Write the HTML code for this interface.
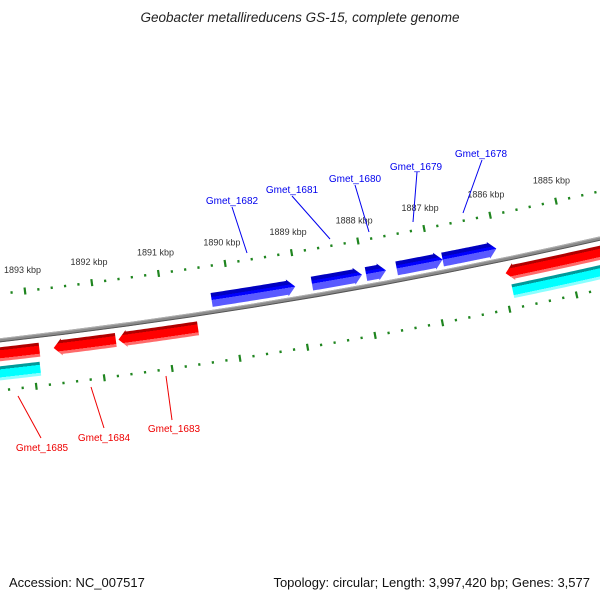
<!DOCTYPE html>
<html><head><meta charset="utf-8"><style>
html,body{margin:0;padding:0;background:#fff;}
svg{display:block;font-family:"Liberation Sans","DejaVu Sans",sans-serif;}
</style></head><body>
<svg id="map" width="600" height="600" viewBox="0 0 600 600" xmlns="http://www.w3.org/2000/svg">
<defs>
<radialGradient id="gBlue" gradientUnits="userSpaceOnUse" cx="-618" cy="-5125" r="5600" fx="-618" fy="-5125">
<stop offset="0.978" stop-color="#0000c0"/><stop offset="0.97946" stop-color="#0000c0"/><stop offset="0.97947" stop-color="#0000ff"/><stop offset="0.98" stop-color="#0000ff"/><stop offset="0.98001" stop-color="#5a5aff"/><stop offset="0.99" stop-color="#5a5aff"/>
</radialGradient>
<radialGradient id="gRed" gradientUnits="userSpaceOnUse" cx="-618" cy="-5125" r="5600" fx="-618" fy="-5125">
<stop offset="0.98" stop-color="#b00000"/><stop offset="0.98392" stop-color="#b00000"/><stop offset="0.98393" stop-color="#ff0000"/><stop offset="0.98535" stop-color="#ff0000"/><stop offset="0.98536" stop-color="#ff6a6a"/><stop offset="0.99" stop-color="#ff6a6a"/>
</radialGradient>
<radialGradient id="gCyan" gradientUnits="userSpaceOnUse" cx="-618" cy="-5125" r="5600" fx="-618" fy="-5125">
<stop offset="0.98" stop-color="#009a9a"/><stop offset="0.98732" stop-color="#009a9a"/><stop offset="0.98733" stop-color="#00ffff"/><stop offset="0.98875" stop-color="#00ffff"/><stop offset="0.98876" stop-color="#8affff"/><stop offset="0.995" stop-color="#8affff"/>
</radialGradient>
</defs>
<text x="300" y="22" text-anchor="middle" font-size="13.5" font-style="italic" fill="#222">Geobacter metallireducens GS-15, complete genome</text>
<g id="ticks"></g>
<g id="backbone"></g>
<g id="genes"></g>
<g id="labels">
<line x1="232" y1="207" x2="247" y2="253" stroke="#0000ee" stroke-width="1"/>
<line x1="292" y1="196" x2="330" y2="239" stroke="#0000ee" stroke-width="1"/>
<line x1="355" y1="185" x2="369" y2="232" stroke="#0000ee" stroke-width="1"/>
<line x1="417" y1="172" x2="413" y2="222" stroke="#0000ee" stroke-width="1"/>
<line x1="482" y1="160" x2="463" y2="213" stroke="#0000ee" stroke-width="1"/>
<line x1="18" y1="396" x2="41" y2="438" stroke="#ee0000" stroke-width="1"/>
<line x1="91" y1="387" x2="104" y2="428" stroke="#ee0000" stroke-width="1"/>
<line x1="166" y1="376" x2="172" y2="420" stroke="#ee0000" stroke-width="1"/>
<g font-size="10" text-anchor="middle">
<text x="232" y="204" fill="#0000ee">Gmet_1682</text>
<text x="292" y="193" fill="#0000ee">Gmet_1681</text>
<text x="355" y="182" fill="#0000ee">Gmet_1680</text>
<text x="416" y="170" fill="#0000ee">Gmet_1679</text>
<text x="481" y="157" fill="#0000ee">Gmet_1678</text>
<text x="42" y="451" fill="#ee0000">Gmet_1685</text>
<text x="104" y="441" fill="#ee0000">Gmet_1684</text>
<text x="174" y="432" fill="#ee0000">Gmet_1683</text>
</g>
</g>
<text x="9" y="587" font-size="13" fill="#111">Accession: NC_007517</text>
<text x="590" y="587" font-size="13" text-anchor="end" fill="#111">Topology: circular; Length: 3,997,420 bp; Genes: 3,577</text>
</svg>
<script>
// data (kbp)
const majorTicks = [1884,1885,1886,1887,1888,1889,1890,1891,1892,1893,1894];
const outerLabelTicks = [1885,1886,1887,1888,1889,1890,1891,1892,1893];
const blueStarts = [1890.28,1888.78,1887.97,1887.51,1886.82];
const blueEnds   = [1889.03,1888.03,1887.67,1886.82,1886.01];
const redStarts  = [1892.89,1891.76,1890.54,1884.0];
const redEnds    = [1894.6,1892.68,1891.72,1885.95];
const redArrow   = [false,true,true,true];
const cyanStarts = [1894.6,1885.9];
const cyanEnds   = [1892.91,1884.0];

const NS='http://www.w3.org/2000/svg';
const CX=-618, CY=-5125, PHI0=1.40324, DPHI=0.012348;
function ang(k){return PHI0+(k-1889)*DPHI;}
function pt(r,k){const a=ang(k);return [CX+r*Math.cos(a),CY+r*Math.sin(a)];}
function mk(tag,attrs,parent){const e=document.createElementNS(NS,tag);for(const k in attrs)e.setAttribute(k,attrs[k]);parent.appendChild(e);return e;}

const ticks=document.getElementById('ticks');
function tickRing(rBase){
  for(let i=0;i<majorTicks.length-1;i++){
    for(let j=0;j<5;j++){
      const k=majorTicks[i]+j*0.2;
      const len=j===0?7:2.5;
      const a=pt(rBase-len/2,k), b=pt(rBase+len/2,k);
      const l=mk('line',{x1:a[0],y1:a[1],x2:b[0],y2:b[1],stroke:'#1f851f','stroke-width':2.2},ticks);
      
      
    }
  }
}
tickRing(5454);
tickRing(5550);
outerLabelTicks.forEach(k=>{
  const p=pt(5433,k);
  const t=mk('text',{x:p[0],y:p[1]+3,'font-size':9,'text-anchor':'middle',fill:'#333'},ticks);
  t.textContent=k+' kbp';
  
  
});

const bb=document.getElementById('backbone');
mk('circle',{cx:CX,cy:CY,r:5500,fill:'none',stroke:'#8a8a8a','stroke-width':4},bb);
mk('circle',{cx:CX,cy:CY,r:5498.5,fill:'none',stroke:'#b0b0b0','stroke-width':1},bb);
mk('circle',{cx:CX,cy:CY,r:5501.7,fill:'none',stroke:'#555','stroke-width':1},bb);

const genes=document.getElementById('genes');
function gene(r1,r2,ks,ke,arrow,fill,name){
  const head=0.12;
  const dir=ke>ks?1:-1;
  const neck=arrow?ke-dir*head:ke;
  const pts=[];
  const n=30;
  for(let i=0;i<=n;i++)pts.push(pt(r1,ks+(neck-ks)*i/n));
  if(arrow){pts.push(pt(r1-1.5,neck));pts.push(pt((r1+r2)/2,ke));pts.push(pt(r2+1.5,neck));}
  for(let i=n;i>=0;i--)pts.push(pt(r2,ks+(neck-ks)*i/n));
  const p=mk('path',{d:'M'+pts.map(q=>q[0].toFixed(2)+','+q[1].toFixed(2)).join('L')+'Z',fill:fill},genes);
  
  
}
blueStarts.forEach((s,i)=>gene(5481,5495,s,blueEnds[i],true,'url(#gBlue)','forward-gene'));
redStarts.forEach((s,i)=>gene(5507,5521,s,redEnds[i],redArrow[i],'url(#gRed)','reverse-gene'));
cyanStarts.forEach((s,i)=>gene(5526,5540,s,cyanEnds[i],false,'url(#gCyan)','cds-feature'));
</script>
</body></html>
